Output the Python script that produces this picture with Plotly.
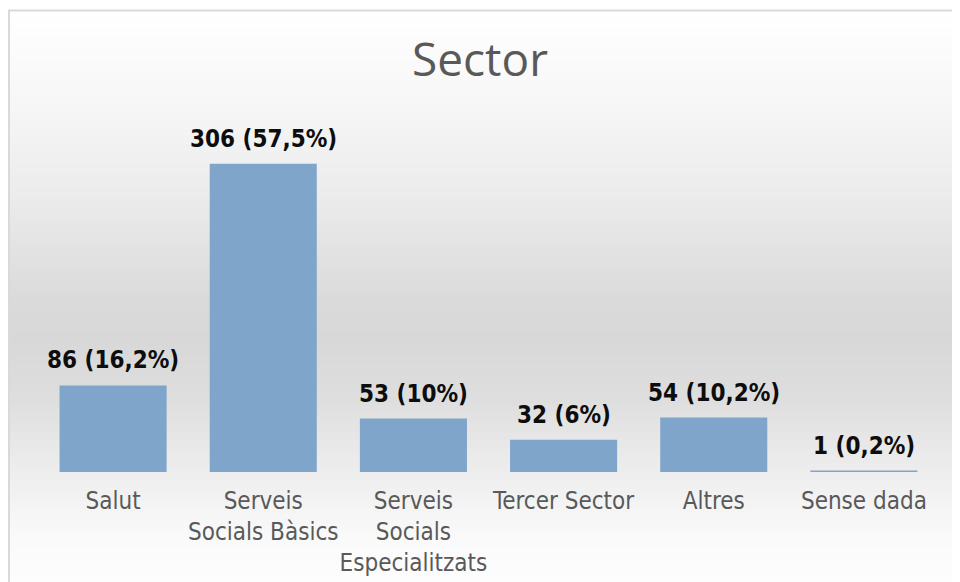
import plotly.graph_objects as go

# ---- data ----
categories = ["Salut", "Serveis<br>Socials Bàsics", "Serveis<br>Socials<br>Especialitzats",
              "Tercer Sector", "Altres", "Sense dada"]
counts = [86, 306, 53, 32, 54, 1]
percent_text = ["16,2%", "57,5%", "10%", "6%", "10,2%", "0,2%"]
bar_labels = [f"{c} ({p})" for c, p in zip(counts, percent_text)]
title_text = "Sector"

W, H = 960, 582
OFF = 8  # page body margin offset
FONT = "DejaVu Sans Condensed, DejaVu Sans"

def px(x):
    return (x - OFF) / W

def py(y):
    return 1 - (y - OFF) / H

fig = go.Figure(
    go.Bar(
        x=categories,
        y=counts,
        marker=dict(color="#7fa5ca", line=dict(width=0)),
        width=0.713,
        hoverinfo="skip",
    )
)

annotations = [
    dict(x=c, y=v, xref="x", yref="y", text=f"<b>{t}</b>", showarrow=False,
         yanchor="bottom", xanchor="center", yshift=9,
         font=dict(family=FONT, size=24, color="#0d0d0d"))
    for c, v, t in zip(categories, counts, bar_labels)
]

# background vertical gradient (white -> gray -> white) as thin bands
stops = [(10, 255), (100, 247), (200, 235), (300, 218), (340, 216), (400, 222),
         (450, 233), (500, 243), (540, 250), (600, 254)]

def gray_at(y):
    for (y0, g0), (y1, g1) in zip(stops[:-1], stops[1:]):
        if y0 <= y <= y1:
            return g0 + (g1 - g0) * (y - y0) / (y1 - y0)
    return 255

shapes = []
step = 3
y = 10
while y < H + OFF:
    g = int(round(gray_at(y + step / 2)))
    shapes.append(dict(type="rect", xref="paper", yref="paper",
                       x0=px(9), x1=px(W + 20), y0=py(y + step + 0.5), y1=py(y),
                       fillcolor=f"rgb({g},{g},{g})", line=dict(width=0), layer="below"))
    y += step

# chart border
shapes.append(dict(type="rect", xref="paper", yref="paper",
                   x0=px(9), x1=px(W + 20), y0=py(H + 20), y1=py(10.5),
                   fillcolor="rgba(0,0,0,0)", line=dict(color="#d9d9d9", width=2), layer="above"))

fig.update_layout(
    width=W, height=H,
    margin=dict(l=0, r=0, t=0, b=0),
    paper_bgcolor="white",
    plot_bgcolor="rgba(0,0,0,0)",
    shapes=shapes,
    annotations=annotations,
    showlegend=False,
    title=dict(text=title_text, x=px(480), xanchor="center", xref="container",
               y=py(60), yanchor="middle", yref="container",
               font=dict(family="Open Sans", size=46, color="#595959")),
    xaxis=dict(domain=[px(38), px(939)], showgrid=False, showline=False, zeroline=False,
               ticks="", automargin=False, fixedrange=True, ticklabelstandoff=12,
               tickangle=0,
               tickfont=dict(family=FONT, size=24, color="#595959")),
    yaxis=dict(domain=[py(472), py(119.5)], range=[0, 350], visible=False,
               showgrid=False, zeroline=False, automargin=False, fixedrange=True),
    bargap=0.287,
)

fig.write_html("out.html")
